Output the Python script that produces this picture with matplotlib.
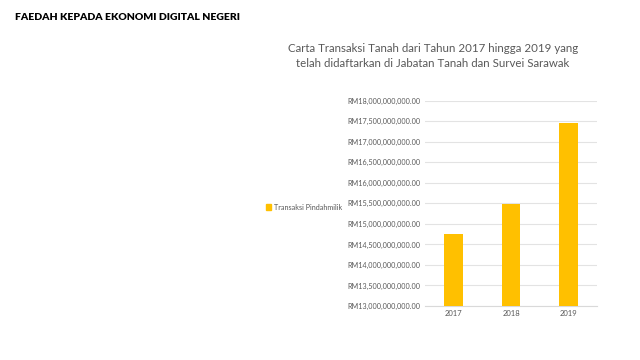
import matplotlib
matplotlib.use("Agg")
import matplotlib.pyplot as plt
from matplotlib.ticker import FuncFormatter, MultipleLocator
from matplotlib.patches import Patch

years = ["2017", "2018", "2019"]
values = [14.75e9, 15.48e9, 17.46e9]
series_name = "Transaksi Pindahmilik"
page_title = "FAEDAH KEPADA EKONOMI DIGITAL NEGERI"
chart_title = "Carta Transaksi Tanah dari Tahun 2017 hingga 2019 yang\ntelah didaftarkan di Jabatan Tanah dan Survei Sarawak"

plt.rcParams['font.family'] = ['Lato', 'DejaVu Sans']

fig = plt.figure(figsize=(6.4, 3.6), dpi=100)
ax = fig.add_axes([0.664, 0.15, 0.269, 0.57])

bar_color = "#FFC000"
x = range(len(years))
ax.bar(x, values, width=0.32, color=bar_color, zorder=3)
ax.set_xticks(list(x))
ax.set_xticklabels(years)
ax.set_xlim(-0.5, 2.5)
ax.set_ylim(13e9, 18e9)
ax.yaxis.set_major_locator(MultipleLocator(0.5e9))
ax.yaxis.set_major_formatter(FuncFormatter(lambda v, p: "RM{:,.2f}".format(v)))
ax.grid(axis="y", color="#E3E3E3", linewidth=0.8, zorder=0)
for s in ["top", "right", "left"]:
    ax.spines[s].set_visible(False)
ax.spines["bottom"].set_color("#D9D9D9")
ax.tick_params(axis="both", length=0, labelsize=5.2, colors="#595959", pad=3)
ax.tick_params(axis="x", labelsize=5.5, pad=3)

fig.text(0.023, 0.95, page_title, fontsize=7.5, fontweight="heavy", color="black", va="center", ha="left")
fig.text(0.676, 0.845, chart_title, fontsize=8.3, color="#595959", ha="center", va="center", linespacing=1.5)

fig.legend(handles=[Patch(color=bar_color, label=series_name)], loc="center left",
           bbox_to_anchor=(0.405, 0.425), frameon=False, fontsize=5.2,
           handlelength=0.7, handleheight=0.7, handletextpad=0.4, labelcolor="#595959")

fig.savefig("out.png", dpi=100, facecolor="white")
